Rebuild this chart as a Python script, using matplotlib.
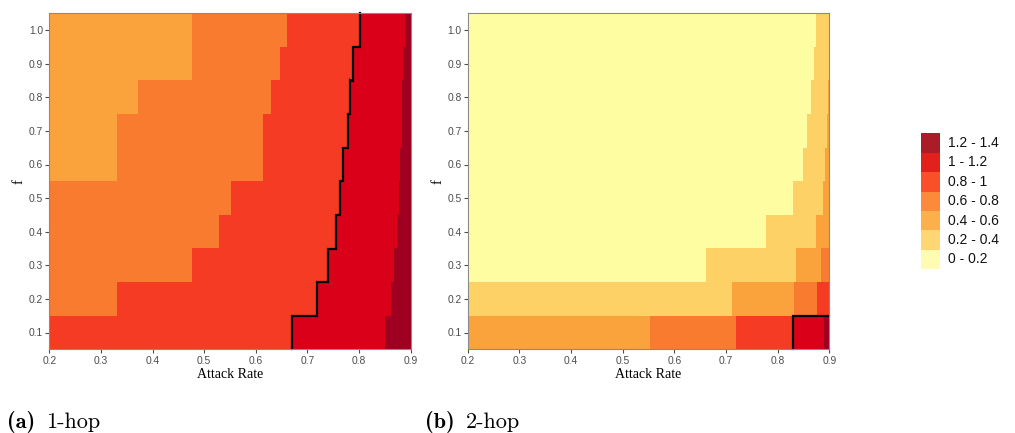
import numpy as np
import matplotlib
matplotlib.use("Agg")
import matplotlib.pyplot as plt
from matplotlib.patches import Rectangle

# ---------------- data ----------------
f_values = [0.1, 0.2, 0.3, 0.4, 0.5, 0.6, 0.7, 0.8, 0.9, 1.0]
level_labels = ["0 - 0.2", "0.2 - 0.4", "0.4 - 0.6", "0.6 - 0.8", "0.8 - 1", "1 - 1.2", "1.2 - 1.4"]
level_bounds = [0.0, 0.2, 0.4, 0.6, 0.8, 1.0, 1.2]

# attack rate at which the value first reaches each lower bound (per f row, f = 0.1 .. 1.0)
# panel (a) 1-hop
a_cross_00 = [0.2] * 10
a_cross_02 = [0.2] * 10
a_cross_04 = [0.2] * 10
a_cross_06 = [0.2, 0.2, 0.2, 0.2, 0.2, 0.332, 0.332, 0.372, 0.476, 0.476]
a_cross_08 = [0.2, 0.332, 0.476, 0.529, 0.552, 0.614, 0.614, 0.629, 0.647, 0.661]
a_cross_10 = [0.671, 0.718, 0.740, 0.755, 0.763, 0.769, 0.778, 0.782, 0.789, 0.802]
a_cross_12 = [0.850, 0.862, 0.868, 0.873, 0.877, 0.879, 0.883, 0.884, 0.886, 0.888]

# panel (b) 2-hop
b_cross_00 = [0.2] * 10
b_cross_02 = [0.2, 0.2, 0.661, 0.777, 0.830, 0.850, 0.857, 0.865, 0.871, 0.874]
b_cross_04 = [0.2, 0.711, 0.835, 0.874, 0.888, 0.892, 0.895, 0.897, 0.9, 0.9]
b_cross_06 = [0.553, 0.832, 0.884, 0.9, 0.9, 0.9, 0.9, 0.9, 0.9, 0.9]
b_cross_08 = [0.719, 0.876, 0.9, 0.9, 0.9, 0.9, 0.9, 0.9, 0.9, 0.9]
b_cross_10 = [0.829, 0.9, 0.9, 0.9, 0.9, 0.9, 0.9, 0.9, 0.9, 0.9]
b_cross_12 = [0.890, 0.9, 0.9, 0.9, 0.9, 0.9, 0.9, 0.9, 0.9, 0.9]

x_ticks = [0.2, 0.3, 0.4, 0.5, 0.6, 0.7, 0.8, 0.9]
y_ticks = [0.1, 0.2, 0.3, 0.4, 0.5, 0.6, 0.7, 0.8, 0.9, 1.0]

# ---------------- style ----------------
fill_colors = ["#FFFDA2", "#FDD166", "#FAA23B", "#F87B30", "#F53B23", "#DA0019", "#A0001F"]
legend_colors = ["#FFFBB2", "#FED673", "#FCB04B", "#FC8A3A", "#F9502A", "#E2211D", "#A91C28"]
contour_level = 1.0
X_MIN, X_MAX = 0.2, 0.9
Y_MIN, Y_MAX = 0.05, 1.05
ROW_H = 0.1

fig = plt.figure(figsize=(10.15, 4.33), dpi=100)
ax_a = fig.add_axes([49.3 / 1015, 1 - 349.3 / 433, 361.4 / 1015, 336 / 433])
ax_b = fig.add_axes([467.7 / 1015, 1 - 349.3 / 433, 361.6 / 1015, 336 / 433])

tick_grey = "#4D4D4D"
frame_grey = "#8A8A8A"


def draw_panel(ax, crossings):
    crossings = [np.asarray(c, dtype=float) for c in crossings]
    for k in range(len(crossings)):
        start = crossings[k]
        end = crossings[k + 1] if k + 1 < len(crossings) else np.full(len(f_values), X_MAX)
        width = end - start
        ax.barh(f_values, width, left=start, height=ROW_H, color=fill_colors[k],
                linewidth=0, edgecolor="none", align="center")
    # contour at value 1.0
    kc = level_bounds.index(contour_level)
    cx = crossings[kc]
    xs, ys = [], []
    for i, f in enumerate(f_values):
        if cx[i] >= X_MAX:
            xs.append(X_MAX)
            ys.append(ys[-1] if ys else f - ROW_H / 2)
            break
        xs += [cx[i], cx[i]]
        ys += [f - ROW_H / 2, f + ROW_H / 2]
    ax.plot(xs, ys, color="black", lw=1.6, solid_joinstyle="miter", zorder=5, clip_on=False)

    ax.set_xlim(X_MIN, X_MAX)
    ax.set_ylim(Y_MIN, Y_MAX)
    ax.set_xticks(x_ticks)
    ax.set_xticklabels([f"{v:.1f}" for v in x_ticks])
    ax.set_yticks(y_ticks)
    ax.set_yticklabels([f"{v:.1f}" for v in y_ticks])
    ax.tick_params(axis="both", direction="out", length=3, width=0.8, color=tick_grey,
                   labelcolor=tick_grey, labelsize=7.4, pad=1.5)
    for lab in ax.get_xticklabels() + ax.get_yticklabels():
        lab.set_fontfamily("Liberation Sans")
    for s in ax.spines.values():
        s.set_color(frame_grey)
        s.set_linewidth(0.8)
        s.set_zorder(6)
    ax.set_xlabel("Attack Rate", fontfamily="Liberation Serif", fontsize=10, labelpad=2)
    ax.set_ylabel("f", fontfamily="Liberation Serif", fontsize=10.5, labelpad=2)


draw_panel(ax_a, [a_cross_00, a_cross_02, a_cross_04, a_cross_06, a_cross_08, a_cross_10, a_cross_12])
draw_panel(ax_b, [b_cross_00, b_cross_02, b_cross_04, b_cross_06, b_cross_08, b_cross_10, b_cross_12])

# ---------------- legend ----------------
leg_x0, leg_x1 = 920.7 / 1015, 940.0 / 1015
leg_top = 1 - 133.3 / 433
patch_h = 19.4 / 433
for i, (lab, col) in enumerate(zip(reversed(level_labels), reversed(legend_colors))):
    y0 = leg_top - (i + 1) * patch_h
    fig.patches.append(Rectangle((leg_x0, y0), leg_x1 - leg_x0, patch_h,
                                 transform=fig.transFigure, facecolor=col, edgecolor="none"))
    fig.text(947.5 / 1015, y0 + patch_h / 2, lab, ha="left", va="center",
             fontsize=10, fontfamily="Liberation Sans", color="#111111")

# ---------------- captions ----------------
cap_y = 1 - 422 / 433
for xpos, tag, name in [(7, "(a)", "1-hop"), (425, "(b)", "2-hop")]:
    t = fig.text(xpos / 1015, cap_y, tag, fontfamily="cmb10", fontsize=16, va="center", ha="left")
    fig.canvas.draw()
    bb = t.get_window_extent()
    fig.text((bb.x1 + 11) / 1015, cap_y, name, fontfamily="cmr10", fontsize=16, va="center", ha="left")

fig.savefig("out.png", dpi=100)
